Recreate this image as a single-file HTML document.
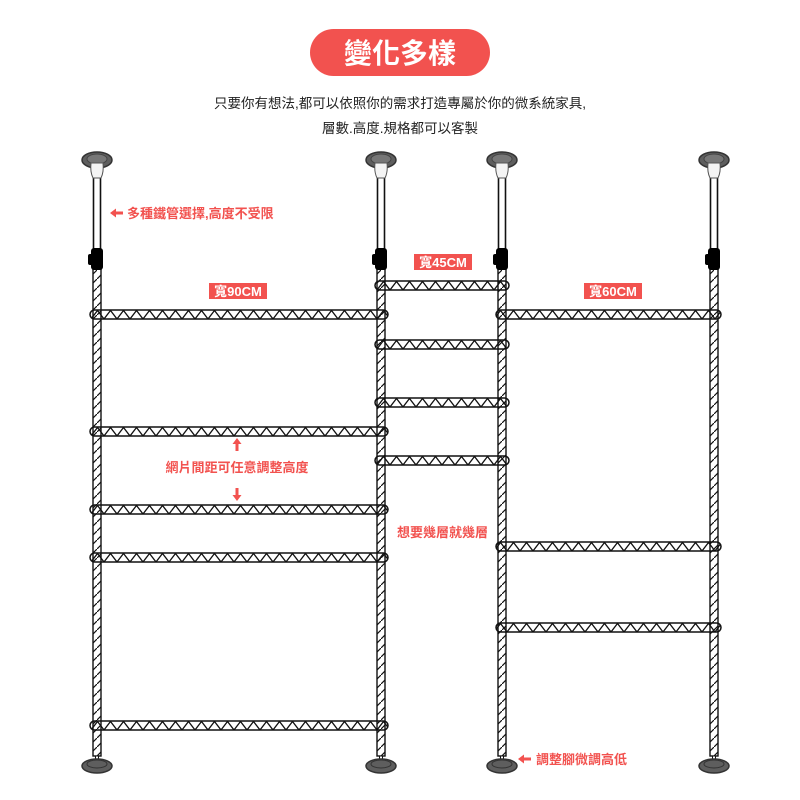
<!DOCTYPE html>
<html><head><meta charset="utf-8"><style>
html,body{margin:0;padding:0;background:#fff;}
svg{display:block;font-family:"Liberation Sans","Noto Sans CJK TC",sans-serif;}
</style></head><body>
<svg width="800" height="800" viewBox="0 0 800 800" xmlns="http://www.w3.org/2000/svg">
<defs>
<pattern id="zz" width="13" height="9" patternUnits="userSpaceOnUse" x="0" y="0">
<path d="M0,9 L6.5,0.5 L13,9" fill="none" stroke="#111" stroke-width="1.3"/>
</pattern>
<pattern id="hatch" width="9" height="9" patternUnits="userSpaceOnUse">
<path d="M-2,11 L11,-2" stroke="#111" stroke-width="1.2"/>
</pattern>
<g id="post">
<rect x="-4" y="266" width="8" height="490" fill="url(#hatch)" stroke="#111" stroke-width="1.4"/>
<rect x="-3.5" y="175" width="7" height="76" fill="#fff" stroke="#111" stroke-width="1.6"/>
<ellipse cx="0" cy="160" rx="15" ry="8" fill="#5e5e5e" stroke="#333" stroke-width="1.5"/>
<ellipse cx="0" cy="159" rx="10" ry="5" fill="#777" stroke="#444" stroke-width="1"/>
<path d="M-6,163 Q-7,172 -4,178 L4,178 Q7,172 6,163 Z" fill="#f4f4f4" stroke="#555" stroke-width="1"/>
<rect x="-6" y="248" width="12" height="22" rx="3" fill="#000"/>
<rect x="-9" y="254" width="5" height="11" rx="2" fill="#000"/>
<rect x="-1.5" y="756" width="3" height="6" fill="#fff" stroke="#111" stroke-width="1"/>
<ellipse cx="0" cy="766" rx="15" ry="7" fill="#5e5e5e" stroke="#333" stroke-width="1.5"/>
<ellipse cx="0" cy="764" rx="10" ry="4" fill="none" stroke="#333" stroke-width="1"/>
</g>
<rect id="sL" x="90" y="0" width="298" height="9" rx="4.5" stroke="#111" stroke-width="1.5" fill="url(#zz)"/>
<rect id="sM" x="375" y="0" width="134" height="9" rx="4.5" stroke="#111" stroke-width="1.5" fill="url(#zz)"/>
<rect id="sR" x="496" y="0" width="225" height="9" rx="4.5" stroke="#111" stroke-width="1.5" fill="url(#zz)"/>
</defs>

<rect x="310" y="29" width="180" height="47" rx="23.5" fill="#f2524f"/>
<text x="400" y="63" text-anchor="middle" font-size="28" font-weight="bold" fill="#fff">變化多樣</text>
<text x="400" y="108" text-anchor="middle" font-size="13.5" fill="#222">只要你有想法,都可以依照你的需求打造專屬於你的微系統家具,</text>
<text x="400" y="133" text-anchor="middle" font-size="13.5" fill="#222">層數.高度.規格都可以客製</text>

<use href="#post" x="97"/>
<use href="#post" x="381"/>
<use href="#post" x="502"/>
<use href="#post" x="714"/>

<use href="#sL" y="310"/>
<use href="#sL" y="427"/>
<use href="#sL" y="505"/>
<use href="#sL" y="553"/>
<use href="#sL" y="721"/>
<use href="#sM" y="281"/>
<use href="#sM" y="340"/>
<use href="#sM" y="398"/>
<use href="#sM" y="456"/>
<use href="#sR" y="310"/>
<use href="#sR" y="542"/>
<use href="#sR" y="623"/>

<g fill="#f2524f">
<rect x="209" y="283" width="58" height="16"/>
<rect x="414" y="254" width="58" height="16"/>
<rect x="584" y="283" width="58" height="16"/>
</g>
<g fill="#fff" font-size="13" font-weight="bold" text-anchor="middle">
<text x="238" y="296">寬90CM</text>
<text x="443" y="267">寬45CM</text>
<text x="613" y="296">寬60CM</text>
</g>

<g fill="#f2524f" font-size="13" font-weight="bold">
<text x="127" y="218">多種鐵管選擇,高度不受限</text>
<text x="237" y="472" text-anchor="middle">網片間距可任意調整高度</text>
<text x="397" y="537">想要幾層就幾層</text>
<text x="536" y="764">調整腳微調高低</text>
<path d="M110,213 l6,-4.5 v3 h7 v3 h-7 v3 z"/>
<path d="M518,759 l6,-4.5 v3 h7 v3 h-7 v3 z"/>
<path d="M237,438 l-4.5,6 h3 v7 h3 v-7 h3 z"/>
<path d="M237,501 l-4.5,-6 h3 v-7 h3 v7 h3 z"/>
</g>
</svg>
</body></html>
